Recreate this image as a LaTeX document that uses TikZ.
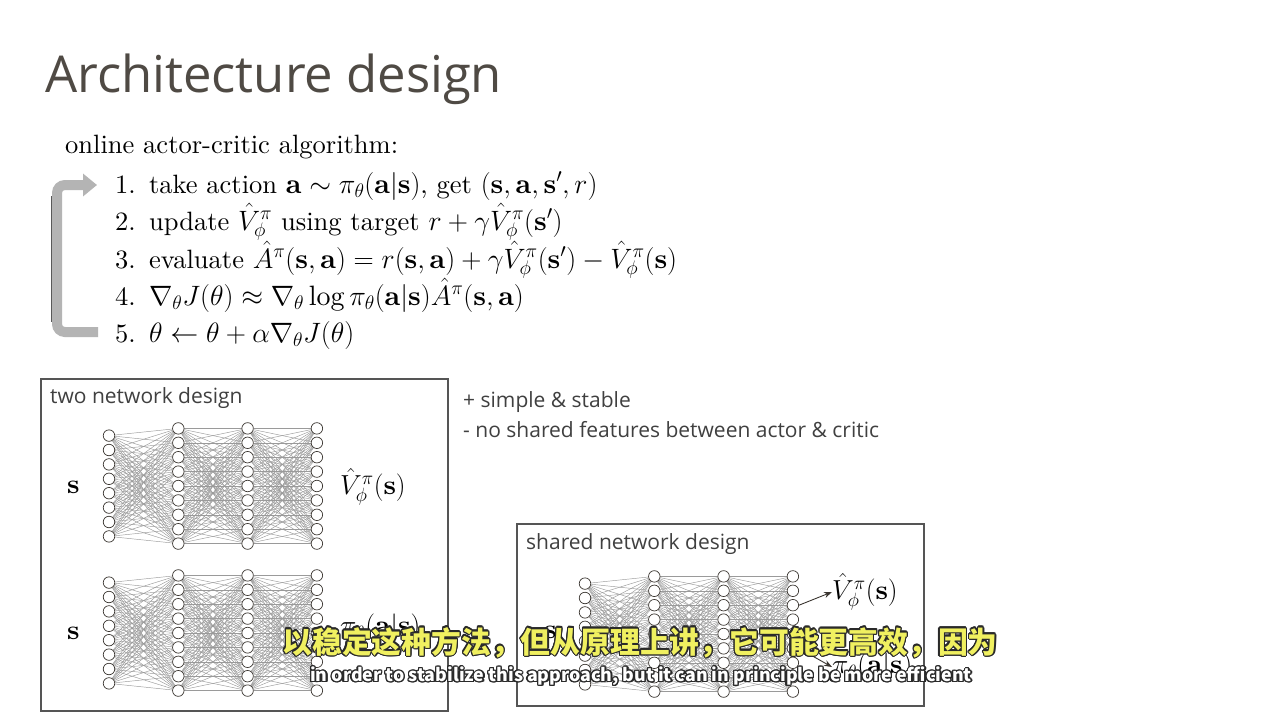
\RequirePackage{fix-cm}
\documentclass[tikz,border=0pt]{standalone}
\usepackage{fontspec}
\usepackage[copies]{contour}
\usetikzlibrary{arrows.meta,backgrounds}
\setmainfont{lmroman10-regular.otf}[BoldFont=lmroman10-bold.otf, ItalicFont=lmroman10-italic.otf]
\newfontfamily\slidefont{Open Sans}
\newfontfamily\cjkfont{Noto Sans CJK SC}
\definecolor{titlegray}{HTML}{4F4A44}
\definecolor{bodygray}{HTML}{404040}
\definecolor{framegray}{HTML}{555555}
\definecolor{wiregray}{HTML}{9A9A9A}
\definecolor{unitedge}{HTML}{3A3530}
\definecolor{loopgray}{HTML}{B4B4B4}
\definecolor{subyellow}{HTML}{F0F060}
\definecolor{subedge}{HTML}{2A2A2A}
\contourlength{1.2pt}

% formulas in the steps are set slightly larger than the words
\newcommand\mth[1]{{\fontsize{28}{32}\selectfont$#1$}}

\tikzset{
  unit/.style={circle, draw=unitedge, fill=white, line width=0.7pt, minimum size=11.5pt, inner sep=0pt},
  wire/.style={draw=wiregray, line width=0.45pt},
  panel/.style={draw=framegray, line width=1.2pt},
  sidetext/.style={anchor=base west, text=bodygray, font=\slidefont\fontsize{21}{25}\selectfont, inner sep=0pt},
  algo/.style={anchor=base west, inner sep=0pt, font=\fontsize{26.5}{32}\selectfont},
  mathlabel/.style={anchor=west, inner sep=0pt, font=\fontsize{27.5}{32}\selectfont},
  outarrow/.style={-{Stealth[length=8pt,width=6pt]}, line width=0.9pt, draw=unitedge}
}

% fully connected net: #1 prefix, #2 x of first column, #3 vertical centre
\newcommand\mlpnet[3]{%
  \foreach \i in {1,...,8}
    \node[unit] (#1-1-\i) at (#2, {#3 + (\i-4.5)*14.4}) {};
  \foreach \c in {2,3,4}
    \foreach \i in {1,...,9}
      \node[unit] (#1-\c-\i) at ({#2 + (\c-1)*69.3}, {#3 + (\i-5)*14.4}) {};
  \begin{pgfonlayer}{background}
    \foreach \i in {1,...,8}
      \foreach \j in {1,...,9}
        \draw[wire] (#1-1-\i) -- (#1-2-\j);
    \foreach \c/\d in {2/3,3/4}
      \foreach \i in {1,...,9}
        \foreach \j in {1,...,9}
          \draw[wire] (#1-\c-\i) -- (#1-\d-\j);
  \end{pgfonlayer}
}

\begin{document}
\begin{tikzpicture}[x=1pt, y=-1pt]
\useasboundingbox (0,0) rectangle (1280,720);
\begin{pgfonlayer}{background}
  \fill[white] (0,0) rectangle (1280,720);
\end{pgfonlayer}

% heading
\node[anchor=base west, inner sep=0pt, text=titlegray,
      font=\slidefont\fontsize{50.8}{58}\selectfont] (title) at (45,92) {Architecture design};

% algorithm
\node[algo] (algohead) at (65,153) {online actor-critic algorithm:};
\node[algo] (step1) at (115,193) {1.\enspace take action \mth{\mathbf{a}\sim\pi_\theta(\mathbf{a}|\mathbf{s})}, get \mth{(\mathbf{s},\mathbf{a},\mathbf{s}',r)}};
\node[algo] (step2) at (115,230) {2.\enspace update \mth{\hat V^\pi_\phi} using target \mth{r+\gamma\hat V^\pi_\phi(\mathbf{s}')}};
\node[algo] (step3) at (115,268) {3.\enspace evaluate \mth{\hat A^\pi(\mathbf{s},\mathbf{a}) = r(\mathbf{s},\mathbf{a})+\gamma\hat V^\pi_\phi(\mathbf{s}')-\hat V^\pi_\phi(\mathbf{s})}};
\node[algo] (step4) at (115,305) {4.\enspace \mth{\nabla_\theta J(\theta)\approx\nabla_\theta\log\pi_\theta(\mathbf{a}|\mathbf{s})\hat A^\pi(\mathbf{s},\mathbf{a})}};
\node[algo] (step5) at (115,342) {5.\enspace \mth{\theta\leftarrow\theta+\alpha\nabla_\theta J(\theta)}};

% loop arrow back to step 1
\coordinate (loopstart) at (98,332);
\coordinate (loopend) at (97,185);
\draw[line width=1pt, draw=black!65] (51.5,196) -- (51.5,322);
\draw[line width=10pt, draw=loopgray, rounded corners=8pt,
      -{Triangle[width=22pt,length=14pt]}]
  (loopstart) -- (57,332) -- (57,185) -- (loopend);

% two network design
\draw[panel] (41,379) rectangle (448,711);
\node[sidetext] (twotitle) at (50,403) {two network design};
\mlpnet{va}{109}{486}
\mlpnet{pa}{109}{633}
\node[mathlabel] (vin) at (67,487) {$\mathbf{s}$};
\node[mathlabel] (pin) at (67,633) {$\mathbf{s}$};
\node[mathlabel] (vout) at (340,487) {$\hat V^\pi_\phi(\mathbf{s})$};
\node[mathlabel] (pout) at (340,628) {$\pi_\theta(\mathbf{a}|\mathbf{s})$};

% pros and cons
\node[sidetext] (pro) at (463,407) {+ simple \& stable};
\node[sidetext] (con) at (463,437) {- no shared features between actor \& critic};

% shared network design
\draw[panel] (517,524) rectangle (924,706);
\node[sidetext] (sharedtitle) at (526,549) {shared network design};
\mlpnet{sh}{585}{634}
\node[mathlabel] (shin) at (544,632) {$\mathbf{s}$};
\node[mathlabel] (shv) at (832,592) {$\hat V^\pi_\phi(\mathbf{s})$};
\node[mathlabel] (shp) at (832,667) {$\pi_\theta(\mathbf{a}|\mathbf{s})$};
\draw[outarrow] (sh-4-3.east) -- (shv.west);
\draw[outarrow] (sh-4-6.east) -- (shp.west);

% captions
\node[inner sep=0pt, text=subyellow, font=\cjkfont\bfseries\fontsize{29.8}{33}\selectfont] (subzh) at (640,643)
  {\contour{subedge}{以稳定这种方法，但从原理上讲，它可能更高效，因为}};
\node[inner sep=0pt, text=white, font=\cjkfont\bfseries\fontsize{17.8}{21}\selectfont] (suben) at (641,677)
  {\contour{subedge}{in order to stabilize this approach, but it can in principle be more efficient}};
\end{tikzpicture}
\end{document}
